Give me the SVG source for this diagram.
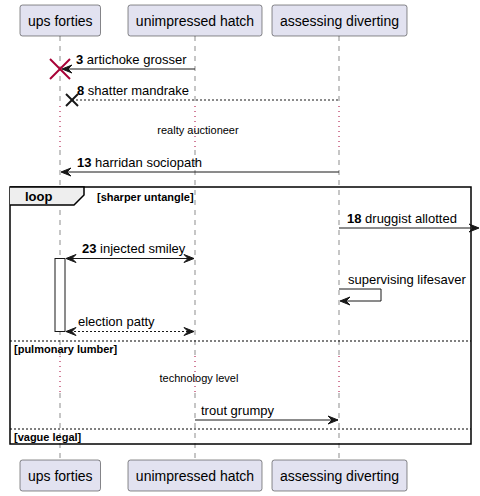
<svg xmlns="http://www.w3.org/2000/svg" width="480" height="496" viewBox="0 0 480 496">
<style>
text{font-family:"Liberation Sans",Arial,sans-serif;fill:#000}
.pt{font-size:14px;text-anchor:middle}
.msg{font-size:13px}
.b{font-weight:bold}
.dl{font-size:11px;text-anchor:middle}
.cond{font-size:11px;font-weight:bold}
.box{fill:#E2E2F0;stroke:#181818;stroke-width:0.5}
.life{stroke:#181818;stroke-width:0.5;stroke-dasharray:5,5;fill:none}
.dot{stroke:#A80036;stroke-width:1;stroke-dasharray:1,4;fill:none}
.ln{stroke:#181818;stroke-width:1;fill:none}
.dash{stroke:#181818;stroke-width:1;stroke-dasharray:2,2;fill:none}
.head{fill:#181818;stroke:#181818;stroke-width:1}
</style>
<rect width="480" height="496" fill="#FFFFFF"/>
<g id="lifelines">
<line class="life" x1="60" y1="36" x2="60" y2="106"/>
<line class="dot" x1="60" y1="106" x2="60" y2="150"/>
<line class="life" x1="60" y1="150" x2="60" y2="356"/>
<line class="dot" x1="60" y1="356" x2="60" y2="393"/>
<line class="life" x1="60" y1="393" x2="60" y2="460"/>
<line class="life" x1="195" y1="36" x2="195" y2="106"/>
<line class="dot" x1="195" y1="106" x2="195" y2="150"/>
<line class="life" x1="195" y1="150" x2="195" y2="356"/>
<line class="dot" x1="195" y1="356" x2="195" y2="393"/>
<line class="life" x1="195" y1="393" x2="195" y2="460"/>
<line class="life" x1="339" y1="36" x2="339" y2="106"/>
<line class="dot" x1="339" y1="106" x2="339" y2="150"/>
<line class="life" x1="339" y1="150" x2="339" y2="356"/>
<line class="dot" x1="339" y1="356" x2="339" y2="393"/>
<line class="life" x1="339" y1="393" x2="339" y2="460"/>
</g>
<g id="ups-forties">
<rect class="box" x="20" y="5" width="80.5" height="31" rx="2.5"/>
<text class="pt" x="60.25" y="25.5">ups forties</text>
<rect class="box" x="20" y="460" width="80.5" height="31" rx="2.5"/>
<text class="pt" x="60.25" y="480.5">ups forties</text>
<rect x="55" y="258.5" width="10" height="73" fill="#FFFFFF" stroke="#181818" stroke-width="1"/>
</g>
<g id="unimpressed-hatch">
<rect class="box" x="128" y="5" width="134" height="31" rx="2.5"/>
<text class="pt" x="195" y="25.5">unimpressed hatch</text>
<rect class="box" x="128" y="460" width="134" height="31" rx="2.5"/>
<text class="pt" x="195" y="480.5">unimpressed hatch</text>
</g>
<g id="assessing-diverting">
<rect class="box" x="272" y="5" width="135" height="31" rx="2.5"/>
<text class="pt" x="339.5" y="25.5">assessing diverting</text>
<rect class="box" x="272" y="460" width="135" height="31" rx="2.5"/>
<text class="pt" x="339.5" y="480.5">assessing diverting</text>
</g>
<g id="loop-frame">
<rect x="10" y="187" width="461" height="257" fill="none" stroke="#000000" stroke-width="1.5"/>
<path d="M10,187 L84,187 L84,195 L74,205 L10,205" fill="#EEEEEE" stroke="#000000" stroke-width="1.5"/>
<text class="msg b" x="25" y="201">loop</text>
<text class="cond" x="97" y="201">[sharper untangle]</text>
<line x1="10" y1="341" x2="471" y2="341" stroke="#000000" stroke-width="1" stroke-dasharray="2,2"/>
<text class="cond" x="14" y="352.5">[pulmonary lumber]</text>
<line x1="10" y1="429" x2="471" y2="429" stroke="#000000" stroke-width="1" stroke-dasharray="2,2"/>
<text class="cond" x="14" y="441">[vague legal]</text>
</g>
<g id="delays">
<text class="dl" x="198" y="134">realty auctioneer</text>
<text class="dl" x="199" y="382">technology level</text>
</g>
<g id="connectors">
<line class="ln" x1="63" y1="69" x2="195" y2="69"/>
<polygon class="head" points="72,65 62,69 72,73 68,69"/>
<line x1="50" y1="59" x2="70" y2="79" stroke="#A80036" stroke-width="2"/>
<line x1="50" y1="79" x2="70" y2="59" stroke="#A80036" stroke-width="2"/>
<text class="msg" x="76" y="64"><tspan class="b">3</tspan> artichoke grosser</text>

<line class="dash" x1="72" y1="100" x2="339" y2="100"/>
<line x1="66" y1="94" x2="78" y2="106" stroke="#181818" stroke-width="2"/>
<line x1="66" y1="106" x2="78" y2="94" stroke="#181818" stroke-width="2"/>
<text class="msg" x="77" y="95"><tspan class="b">8</tspan> shatter mandrake</text>

<line class="ln" x1="62" y1="172" x2="339" y2="172"/>
<polygon class="head" points="71,168 61,172 71,176 67,172"/>
<text class="msg" x="77" y="167"><tspan class="b">13</tspan> harridan sociopath</text>

<line class="ln" x1="339" y1="228" x2="478" y2="228"/>
<polygon class="head" points="469,224 479,228 469,232 473,228"/>
<text class="msg" x="347" y="223"><tspan class="b">18</tspan> druggist allotted</text>

<line class="ln" x1="66" y1="258.5" x2="194" y2="258.5"/>
<polygon class="head" points="76,254.5 66,258.5 76,262.5 72,258.5"/>
<polygon class="head" points="184,254.5 194,258.5 184,262.5 188,258.5"/>
<text class="msg" x="82" y="253"><tspan class="b">23</tspan> injected smiley</text>

<polyline class="ln" points="339,289 381,289 381,301 341,301"/>
<polygon class="head" points="350,297 340,301 350,305 346,301"/>
<text class="msg" x="348" y="284">supervising lifesaver</text>

<line class="dash" x1="66" y1="331.5" x2="194" y2="331.5"/>
<polygon class="head" points="76,327.5 66,331.5 76,335.5 72,331.5"/>
<polygon class="head" points="184,327.5 194,331.5 184,335.5 188,331.5"/>
<text class="msg" x="78" y="326">election patty</text>

<line class="ln" x1="195" y1="420" x2="338" y2="420"/>
<polygon class="head" points="328,416 338,420 328,424 332,420"/>
<text class="msg" x="201" y="415">trout grumpy</text>
</g>
</svg>
